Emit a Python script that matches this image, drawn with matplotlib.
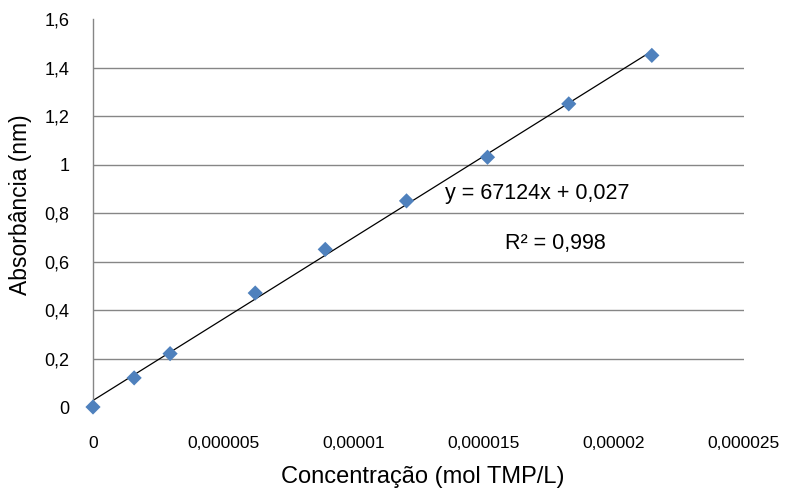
import matplotlib
matplotlib.use("Agg")
import matplotlib.pyplot as plt
import numpy as np

plt.rcParams['font.family'] = ['Liberation Sans', 'DejaVu Sans']

conc = [0.0, 1.58e-6, 2.96e-6, 6.23e-6, 8.92e-6, 12.04e-6, 15.15e-6, 18.27e-6, 21.46e-6]
absorb = [0.0, 0.12, 0.22, 0.47, 0.65, 0.85, 1.03, 1.25, 1.45]
slope = 67124
intercept = 0.027
x_ticks = [0, 5e-6, 10e-6, 15e-6, 20e-6, 25e-6]
x_tick_labels = ["0", "0,000005", "0,00001", "0,000015", "0,00002", "0,000025"]
y_ticks = [0, 0.2, 0.4, 0.6, 0.8, 1.0, 1.2, 1.4, 1.6]
y_tick_labels = ["0", "0,2", "0,4", "0,6", "0,8", "1", "1,2", "1,4", "1,6"]

fig = plt.figure(figsize=(7.89, 4.92), dpi=100)
ax = fig.add_axes([93/789, 1-407/492, (744-93)/789, (407-19)/492])

for yv in y_ticks[1:-1]:
    ax.axhline(yv, color='#868686', lw=1.0, zorder=0)

xl = np.array([conc[0], conc[-1]])
ax.plot(xl, slope*xl + intercept, color='black', lw=0.9, zorder=2)
ax.scatter(conc, absorb, marker='D', s=60, color='#4F81BD', edgecolor='none',
           zorder=3, clip_on=False)

ax.set_xlim(0, 25e-6)
ax.set_ylim(0, 1.6)
ax.set_xticks(x_ticks)
ax.set_xticklabels(x_tick_labels, fontsize=12.5)
ax.set_yticks(y_ticks)
ax.set_yticklabels(y_tick_labels, fontsize=13)
ax.tick_params(axis='x', length=0, pad=21)
ax.tick_params(axis='y', length=0, pad=17)

for s in ['top', 'right', 'bottom']:
    ax.spines[s].set_visible(False)
ax.spines['left'].set_color('#868686')
ax.spines['left'].set_linewidth(1.0)

fig.text(423/789, 1-477/492, "Concentração (mol TMP/L)", fontsize=17,
         ha='center', va='center')
fig.text(21/789, 1-205/492, "Absorbância (nm)", fontsize=16.5,
         ha='center', va='center', rotation=90)

fig.text(537/789, 1-193/492, "y = 67124x + 0,027",
         ha='center', va='center', fontsize=15.5)
fig.text(555/789, 1-243/492, "R² = 0,998",
         ha='center', va='center', fontsize=15.5)

fig.savefig("out.png", dpi=100)
